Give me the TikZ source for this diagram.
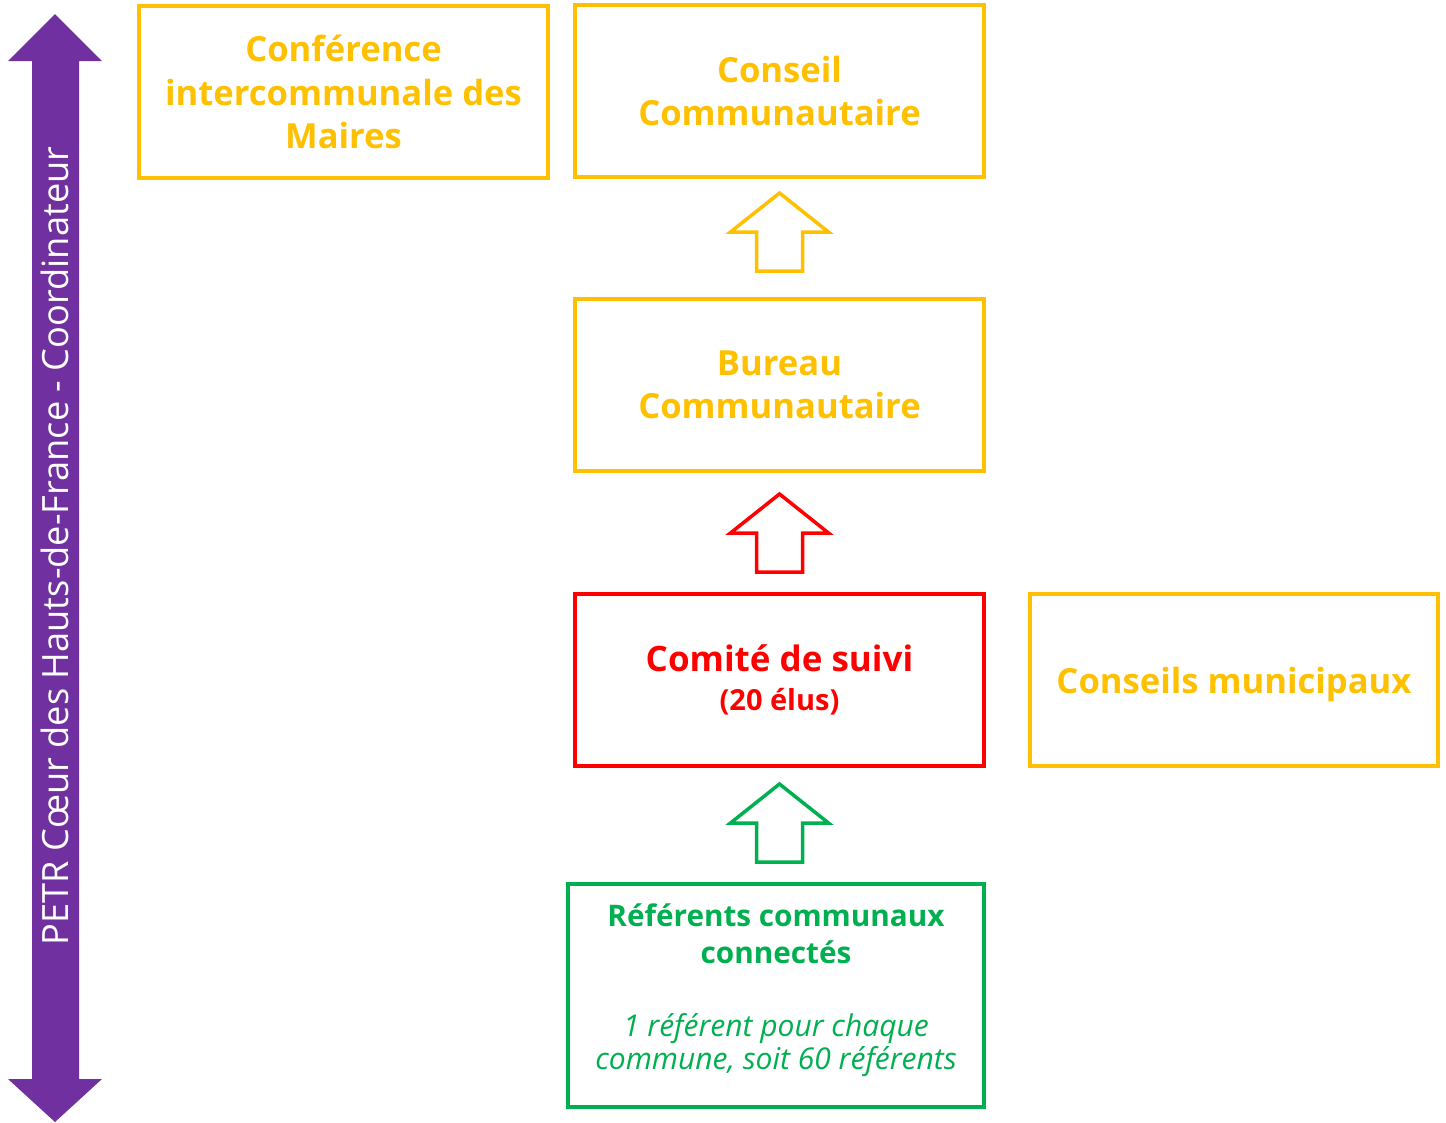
\documentclass[tikz,border=0pt]{standalone}
\usepackage{fontspec}
\setmainfont{Open Sans}
\definecolor{cyel}{HTML}{FFC000}
\definecolor{cred}{HTML}{FF0000}
\definecolor{cgreen}{HTML}{00B050}
\definecolor{cpurple}{HTML}{7030A0}
\newcommand{\hollowup}[2]{%
  \draw[#2,line width=3.5pt,line join=miter] (#1) -- ++(49,39) -- ++(-26,0) -- ++(0,39) -- ++(-46,0) -- ++(0,-39) -- ++(-26,0) -- cycle;}
\newcommand{\refb}{\bfseries\fontsize{29.7}{37}\selectfont}
\newcommand{\refi}{\itshape\fontsize{30}{37}\selectfont}
\begin{document}
\begin{tikzpicture}[x=1pt,y=-1pt,
  box/.style={draw,line width=3.5pt,rectangle,minimum width=409pt,minimum height=172pt,align=center,inner sep=0pt},
  big/.style={font=\bfseries\fontsize{34.6}{43.5}\selectfont}]
\useasboundingbox (0,0) rectangle (1446,1122);
% purple double arrow
\fill[cpurple] (55,14) -- (102,61) -- (79,61) -- (79,1079) -- (102,1079) -- (55,1122) -- (8,1079) -- (32,1079) -- (32,61) -- (8,61) -- cycle;
\node[rotate=90,text=white,font=\fontsize{36.2}{40}\selectfont] (petr) at (55,546) {PETR Cœur des Hauts-de-France - Coordinateur};
% boxes
\node[box,cyel,text=cyel,big] (conf) at (343.5,92) {Conférence\\intercommunale des\\Maires};
\node[box,cyel,text=cyel,big] (conseil) at (779.5,91) {Conseil\\Communautaire};
\node[box,cyel,text=cyel,big] (bureau) at (779.5,385) {Bureau\\Communautaire};
\node[box,cred,text=cred,font=\bfseries\fontsize{35}{39}\selectfont] (comite) at (779.5,680) {Comité de suivi\\{\fontsize{29}{34}\selectfont (20 élus)}};
\node[box,cyel,minimum width=408pt] (muni) at (1234,680) {};
\node[text=cyel,big,inner sep=0pt,yshift=-5pt] (munitext) at (muni.center) {Conseils municipaux};
\node[box,cgreen,minimum width=416pt,minimum height=223pt] (ref) at (776,995.5) {};
\node[text=cgreen,align=center,inner sep=0pt,yshift=5pt,font=\fontsize{29}{37}\selectfont] (reftext) at (ref.center)
  {{\refb Référents communaux}\\{\refb connectés}\\[36pt]{\refi 1 référent pour chaque}\\[-4pt]{\refi commune, soit 60 référents}};
% hollow arrows
\hollowup{conseil.south |- 0,193}{cyel}
\hollowup{bureau.south |- 0,494}{cred}
\hollowup{comite.south |- 0,784}{cgreen}
\end{tikzpicture}
\end{document}
